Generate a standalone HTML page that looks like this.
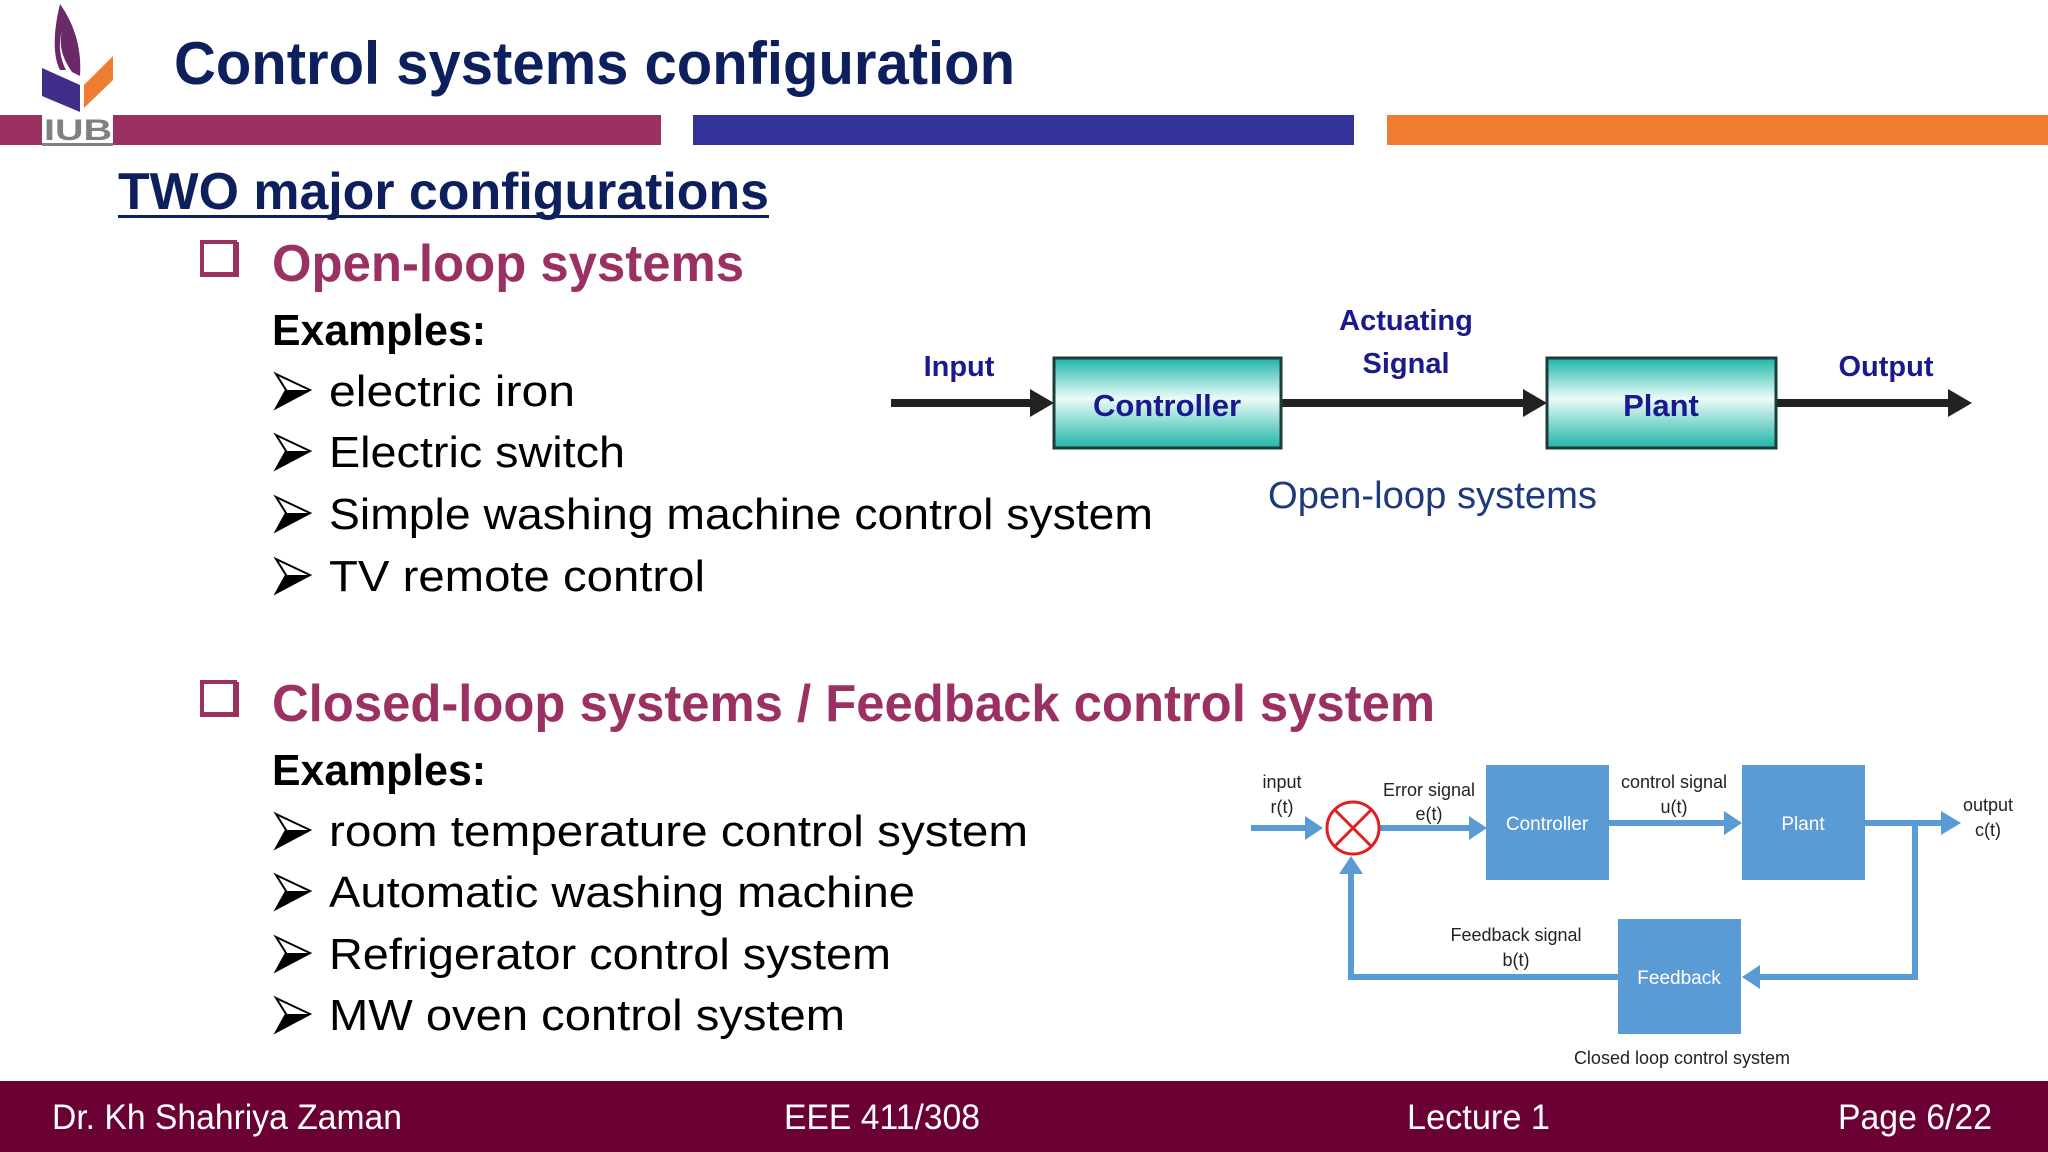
<!DOCTYPE html>
<html><head><meta charset="utf-8"><style>
html,body{margin:0;padding:0;background:#fff;}
svg{display:block;}
text{font-family:"Liberation Sans",sans-serif;}
</style></head><body>
<svg width="2048" height="1152" viewBox="0 0 2048 1152" xmlns="http://www.w3.org/2000/svg">
<defs>
<linearGradient id="teal" x1="0" y1="0" x2="0" y2="1">
<stop offset="0" stop-color="#1fb5a8"/><stop offset="0.45" stop-color="#ecfbf9"/><stop offset="1" stop-color="#1fb5a8"/>
</linearGradient>
<g id="bul"><polygon points="0,0 34,16 0,34 10,16" fill="#fff" stroke="#000" stroke-width="2"/><polygon points="0,34 34,16 10,16" fill="#000"/></g>
</defs>
<rect width="2048" height="1152" fill="#fff"/>
<rect x="0" y="115" width="661" height="30" fill="#9b3162"/>
<rect x="693" y="115" width="661" height="30" fill="#333399"/>
<rect x="1387" y="115" width="661" height="30" fill="#ee7d31"/>
<path d="M60,4 C75,25 82,50 80,76 L72,72 C64,60 58,48 62,30 C58,45 60,58 66,70 L60,70 C52,55 54,28 60,4Z" fill="#6a2a6a"/>
<polygon points="42,68 80,85 80,112 42,96" fill="#3f2d87"/>
<polygon points="84,85 113,56 113,80 84,108" fill="#ee7d31"/>
<rect x="42" y="113" width="71" height="32" fill="#fff"/>
<text x="44" y="140" font-size="30" font-weight="bold" fill="#808080" textLength="68" lengthAdjust="spacingAndGlyphs">IUB</text>
<rect x="42" y="143" width="71" height="3" fill="#808080"/>
<text x="174" y="84" font-size="60" font-weight="bold" fill="#0d1f5c" textLength="841" lengthAdjust="spacingAndGlyphs">Control systems configuration</text>
<text x="118" y="209" font-size="52" font-weight="bold" fill="#0d1f5c" textLength="651" lengthAdjust="spacingAndGlyphs">TWO major configurations</text>
<rect x="118" y="215" width="651" height="3" fill="#0d1f5c"/>
<rect x="202" y="242" width="33" height="33" fill="none" stroke="#9b3162" stroke-width="4"/>
<rect x="202" y="272" width="36" height="5" fill="#9b3162"/>
<rect x="235" y="242" width="4" height="35" fill="#9b3162"/>
<text x="272" y="281" font-size="52" font-weight="bold" fill="#9b3162" textLength="472" lengthAdjust="spacingAndGlyphs">Open-loop systems</text>
<text x="272" y="345" font-size="44" font-weight="bold" fill="#000" textLength="214" lengthAdjust="spacingAndGlyphs">Examples:</text>
<use href="#bul" x="276" y="374"/><text x="329" y="406" font-size="44" fill="#000" textLength="246" lengthAdjust="spacingAndGlyphs">electric iron</text>
<use href="#bul" x="276" y="435"/><text x="329" y="467" font-size="44" fill="#000" textLength="296" lengthAdjust="spacingAndGlyphs">Electric switch</text>
<use href="#bul" x="276" y="497"/><text x="329" y="529" font-size="44" fill="#000" textLength="824" lengthAdjust="spacingAndGlyphs">Simple washing machine control system</text>
<use href="#bul" x="276" y="559"/><text x="329" y="591" font-size="44" fill="#000" textLength="376" lengthAdjust="spacingAndGlyphs">TV remote control</text>
<rect x="202" y="682" width="33" height="33" fill="none" stroke="#9b3162" stroke-width="4"/>
<rect x="202" y="712" width="36" height="5" fill="#9b3162"/>
<rect x="235" y="682" width="4" height="35" fill="#9b3162"/>
<text x="272" y="721" font-size="52" font-weight="bold" fill="#9b3162" textLength="1163" lengthAdjust="spacingAndGlyphs">Closed-loop systems / Feedback control system</text>
<text x="272" y="785" font-size="44" font-weight="bold" fill="#000" textLength="214" lengthAdjust="spacingAndGlyphs">Examples:</text>
<use href="#bul" x="276" y="814"/><text x="329" y="846" font-size="44" fill="#000" textLength="699" lengthAdjust="spacingAndGlyphs">room temperature control system</text>
<use href="#bul" x="276" y="875"/><text x="329" y="907" font-size="44" fill="#000" textLength="586" lengthAdjust="spacingAndGlyphs">Automatic washing machine</text>
<use href="#bul" x="276" y="937"/><text x="329" y="969" font-size="44" fill="#000" textLength="562" lengthAdjust="spacingAndGlyphs">Refrigerator control system</text>
<use href="#bul" x="276" y="998"/><text x="329" y="1030" font-size="44" fill="#000" textLength="516" lengthAdjust="spacingAndGlyphs">MW oven control system</text>
<g fill="#222">
<rect x="891" y="399" width="145" height="8"/><polygon points="1030,389 1054,403 1030,417"/>
<rect x="1281" y="399" width="248" height="8"/><polygon points="1523,389 1547,403 1523,417"/>
<rect x="1776" y="399" width="178" height="8"/><polygon points="1948,389 1972,403 1948,417"/>
</g>
<rect x="1054" y="358" width="227" height="90" fill="url(#teal)" stroke="#1e3a3a" stroke-width="3"/>
<rect x="1547" y="358" width="229" height="90" fill="url(#teal)" stroke="#1e3a3a" stroke-width="3"/>
<g font-weight="bold" fill="#1a1a8c" text-anchor="middle" font-size="29">
<text x="959" y="376">Input</text>
<text x="1406" y="330">Actuating</text>
<text x="1406" y="373">Signal</text>
<text x="1886" y="376">Output</text>
<text x="1167" y="416" font-size="31">Controller</text>
<text x="1661" y="416" font-size="31">Plant</text>
</g>
<text x="1268" y="508" font-size="38" fill="#1f3a7a" textLength="329" lengthAdjust="spacingAndGlyphs">Open-loop systems</text>
<g fill="#5b9bd5">
<rect x="1486" y="765" width="123" height="115"/>
<rect x="1742" y="765" width="123" height="115"/>
<rect x="1618" y="919" width="123" height="115"/>
<rect x="1251" y="825" width="58" height="6"/><polygon points="1305,816 1323,828 1305,840"/>
<rect x="1380" y="825" width="92" height="6"/><polygon points="1469,816 1487,828 1469,840"/>
<rect x="1609" y="820" width="117" height="6"/><polygon points="1724,811 1742,823 1724,835"/>
<rect x="1865" y="820" width="78" height="6"/><polygon points="1941,811 1961,823 1941,835"/>
<rect x="1912" y="820" width="6" height="160"/>
<rect x="1758" y="974" width="160" height="6"/><polygon points="1760,965 1742,977 1760,989"/>
<rect x="1348" y="974" width="270" height="6"/>
<rect x="1348" y="872" width="6" height="108"/><polygon points="1339,874 1351,856 1363,874"/>
</g>
<circle cx="1353" cy="828" r="26" fill="#fff" stroke="#e02020" stroke-width="3"/>
<line x1="1335" y1="810" x2="1371" y2="846" stroke="#e02020" stroke-width="3"/>
<line x1="1371" y1="810" x2="1335" y2="846" stroke="#e02020" stroke-width="3"/>
<g font-size="18" fill="#222" text-anchor="middle">
<text x="1282" y="788">input</text><text x="1282" y="813">r(t)</text>
<text x="1429" y="796">Error signal</text><text x="1429" y="820">e(t)</text>
<text x="1674" y="788">control signal</text><text x="1674" y="813">u(t)</text>
<text x="1988" y="811">output</text><text x="1988" y="836">c(t)</text>
<text x="1516" y="941">Feedback signal</text><text x="1516" y="966">b(t)</text>
<text x="1682" y="1064">Closed loop control system</text>
<g fill="#fff" font-size="19"><text x="1547" y="830">Controller</text><text x="1803" y="830">Plant</text><text x="1679" y="984">Feedback</text></g>
</g>
<rect x="0" y="1081" width="2048" height="71" fill="#6a0033"/>
<g font-size="35" fill="#fff">
<text x="52" y="1129" textLength="350" lengthAdjust="spacingAndGlyphs">Dr. Kh Shahriya Zaman</text>
<text x="784" y="1129" textLength="196" lengthAdjust="spacingAndGlyphs">EEE 411/308</text>
<text x="1407" y="1129" textLength="143" lengthAdjust="spacingAndGlyphs">Lecture 1</text>
<text x="1838" y="1129" textLength="154" lengthAdjust="spacingAndGlyphs">Page 6/22</text>
</g>
</svg>
</body></html>
